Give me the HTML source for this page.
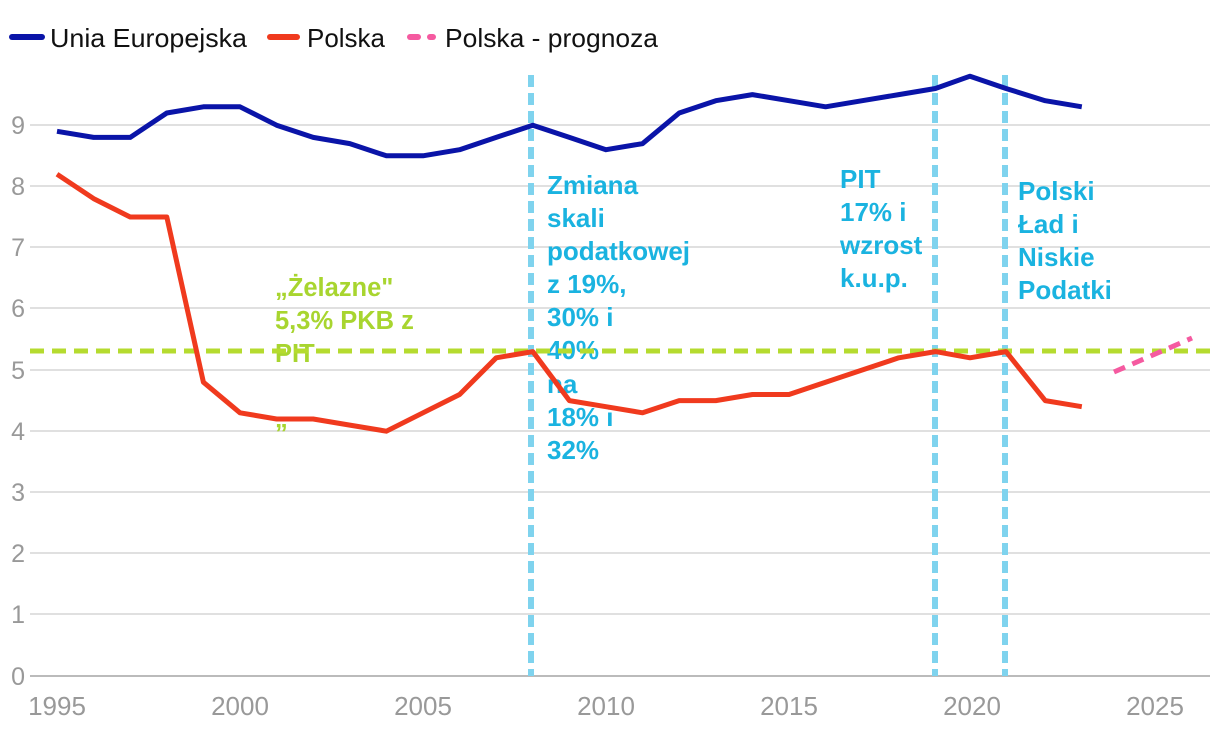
<!DOCTYPE html>
<html><head><meta charset="utf-8"><style>
body{margin:0;background:#fff}
svg text{font-family:"Liberation Sans",sans-serif}
</style></head><body>
<svg width="1220" height="732" xmlns="http://www.w3.org/2000/svg">
<rect width="1220" height="732" fill="#fff"/>
<g stroke="#e0e0e0" stroke-width="2">
<line x1="30" x2="1210" y1="125" y2="125"/><line x1="30" x2="1210" y1="186" y2="186"/>
<line x1="30" x2="1210" y1="247" y2="247"/><line x1="30" x2="1210" y1="308" y2="308"/>
<line x1="30" x2="1210" y1="370" y2="370"/><line x1="30" x2="1210" y1="431" y2="431"/>
<line x1="30" x2="1210" y1="492" y2="492"/><line x1="30" x2="1210" y1="553" y2="553"/>
<line x1="30" x2="1210" y1="614" y2="614"/>
</g>
<line x1="30" x2="1210" y1="676" y2="676" stroke="#bbb" stroke-width="2"/>
<g fill="#999" font-size="25" text-anchor="end">
<text x="25" y="134">9</text><text x="25" y="195">8</text><text x="25" y="256">7</text>
<text x="25" y="317">6</text><text x="25" y="379">5</text><text x="25" y="440">4</text>
<text x="25" y="501">3</text><text x="25" y="562">2</text><text x="25" y="623">1</text>
<text x="25" y="685">0</text>
</g>
<g fill="#999" font-size="26" text-anchor="middle">
<text x="57" y="715">1995</text><text x="240" y="715">2000</text><text x="423" y="715">2005</text>
<text x="606" y="715">2010</text><text x="789" y="715">2015</text><text x="972" y="715">2020</text>
<text x="1155" y="715">2025</text>
</g>
<g fill="#1ab3e0" font-size="26" font-weight="bold">
<text x="547" y="194">Zmiana</text><text x="547" y="227">skali</text><text x="547" y="260">podatkowej</text>
<text x="547" y="293">z 19%,</text><text x="547" y="326">30% i</text><text x="547" y="359">40%</text>
<text x="547" y="393">na</text><text x="547" y="426">18% i</text><text x="547" y="459">32%</text>
<text x="840" y="188">PIT</text><text x="840" y="221">17% i</text><text x="840" y="254">wzrost</text><text x="840" y="287">k.u.p.</text>
<text x="1018" y="200">Polski</text><text x="1018" y="233">Ład i</text><text x="1018" y="266">Niskie</text><text x="1018" y="299">Podatki</text>
</g>
<g fill="#a8d52f" font-size="25.5" font-weight="bold">
<text x="275" y="296">„Żelazne"</text><text x="275" y="329">5,3% PKB z</text><text x="275" y="362">PIT</text><text x="275" y="442">”</text>
</g>
<g stroke="#7fd3ee" stroke-width="6" stroke-dasharray="12,6">
<line x1="531" x2="531" y1="75" y2="676"/><line x1="935" x2="935" y1="75" y2="676"/><line x1="1005" x2="1005" y1="75" y2="676"/>
</g>
<line x1="30" x2="1210" y1="351" y2="351" stroke="#b5db2f" stroke-width="5" stroke-dasharray="14,8"/>
<polyline fill="none" stroke="#0a14a8" stroke-width="5" stroke-linejoin="round" points="57,131.3 93.6,137.4 130.2,137.4 166.8,113 203.4,106.8 240,106.8 276.6,125.2 313.2,137.4 349.8,143.6 386.4,155.8 423,155.8 459.6,149.7 496.2,137.4 532.8,125.2 569.4,137.4 606,149.7 642.6,143.6 679.2,113 715.8,100.7 752.4,94.6 789,100.7 825.6,106.8 862.2,100.7 898.8,94.6 935.4,88.5 970,76.2 1006,88.5 1045.2,100.7 1081.8,106.8"/>
<polyline fill="none" stroke="#f03a1e" stroke-width="5" stroke-linejoin="round" points="57,174.2 93.6,198.6 130.2,217 166.8,217 203.4,382.2 240,412.8 276.6,419 313.2,419 349.8,425.1 386.4,431.2 423,412.8 459.6,394.5 496.2,357.8 532.8,351.6 569.4,400.6 606,406.7 642.6,412.8 679.2,400.6 715.8,400.6 752.4,394.5 789,394.5 825.6,382.2 862.2,370 898.8,357.8 935.4,351.6 970,357.8 1006,351.6 1045.2,400.6 1081.8,406.7"/>
<line x1="1114" y1="372" x2="1192" y2="338" stroke="#f55aa0" stroke-width="5" stroke-dasharray="12,8"/>
<g font-size="26" fill="#111">
<line x1="12" x2="42" y1="37" y2="37" stroke="#0a14a8" stroke-width="6" stroke-linecap="round"/>
<text x="50" y="47" textLength="197" lengthAdjust="spacingAndGlyphs">Unia Europejska</text>
<line x1="270" x2="297" y1="37" y2="37" stroke="#f03a1e" stroke-width="6" stroke-linecap="round"/>
<text x="307" y="47" textLength="78" lengthAdjust="spacingAndGlyphs">Polska</text>
<line x1="410" x2="418" y1="37" y2="37" stroke="#f55aa0" stroke-width="6" stroke-linecap="round"/>
<line x1="430" x2="433" y1="37" y2="37" stroke="#f55aa0" stroke-width="6" stroke-linecap="round"/>
<text x="445" y="47" textLength="213" lengthAdjust="spacingAndGlyphs">Polska - prognoza</text>
</g>
</svg>
</body></html>
